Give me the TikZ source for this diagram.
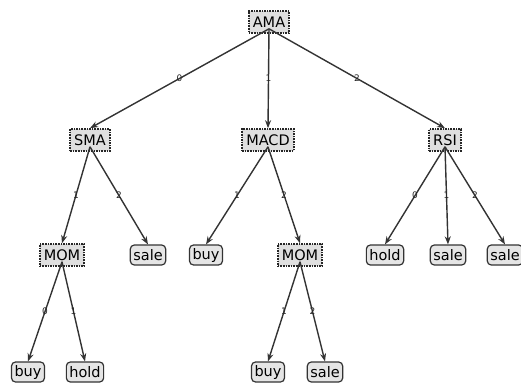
\documentclass[tikz,border=0pt]{standalone}
\usepackage{fontspec}
\setmainfont{DejaVu Sans}
\usetikzlibrary{arrows.meta}
\begin{document}
\begin{tikzpicture}[x=1pt,y=-1pt,
  inner/.style={draw=black!85, densely dotted, line width=1.6pt, fill=gray!25,
    inner xsep=4pt, inner ysep=2.5pt, minimum height=22pt, font=\fontsize{14.5}{16}\selectfont},
  leaf/.style={draw=black!80, line width=1.2pt, rounded corners=4pt, fill=gray!20,
    inner xsep=3pt, inner ysep=2.5pt, minimum height=20pt, font=\fontsize{14.5}{16}\selectfont},
  edge/.style={draw=black!80, line width=1.4pt, -{Stealth[length=8pt,width=6pt]}},
  lab/.style={font=\fontsize{9}{10}\selectfont, inner sep=0pt, text=black!85}]
\useasboundingbox (0,0) rectangle (521,383);
\node[inner] (AMA) at (269,22) {AMA};
\node[inner] (SMA) at (90,140) {SMA};
\node[inner] (MACD) at (268,140) {MACD};
\node[inner] (RSI) at (445,140) {RSI};
\node[inner] (MOM1) at (62,255) {MOM};
\node[leaf] (sale1) at (148,255) {sale};
\node[leaf] (buy1) at (206,255) {buy};
\node[inner] (MOM2) at (300,255) {MOM};
\node[leaf] (hold1) at (385,255) {hold};
\node[leaf] (sale2) at (448,255) {sale};
\node[leaf] (sale3) at (505,255) {sale};
\node[leaf] (buy2) at (28,372) {buy};
\node[leaf] (hold2) at (85,372) {hold};
\node[leaf] (buy3) at (268,372) {buy};
\node[leaf] (sale4) at (325,372) {sale};
\draw[edge] ([yshift=5pt]AMA.south) -- node[lab]{0} (SMA.north);
\draw[edge] ([yshift=5pt]AMA.south) -- node[lab]{1} (MACD.north);
\draw[edge] ([yshift=5pt]AMA.south) -- node[lab]{2} (RSI.north);
\draw[edge] ([yshift=5pt]SMA.south) -- node[lab]{1} (MOM1.north);
\draw[edge] ([yshift=5pt]SMA.south) -- node[lab]{2} (sale1.north);
\draw[edge] ([yshift=5pt]MACD.south) -- node[lab]{1} (buy1.north);
\draw[edge] ([yshift=5pt]MACD.south) -- node[lab]{2} (MOM2.north);
\draw[edge] ([yshift=5pt]RSI.south) -- node[lab]{0} (hold1.north);
\draw[edge] ([yshift=5pt]RSI.south) -- node[lab]{1} (sale2.north);
\draw[edge] ([yshift=5pt]RSI.south) -- node[lab]{2} (sale3.north);
\draw[edge] ([yshift=5pt]MOM1.south) -- node[lab]{0} (buy2.north);
\draw[edge] ([yshift=5pt]MOM1.south) -- node[lab]{1} (hold2.north);
\draw[edge] ([yshift=5pt]MOM2.south) -- node[lab]{1} (buy3.north);
\draw[edge] ([yshift=5pt]MOM2.south) -- node[lab]{2} (sale4.north);
\end{tikzpicture}
\end{document}
